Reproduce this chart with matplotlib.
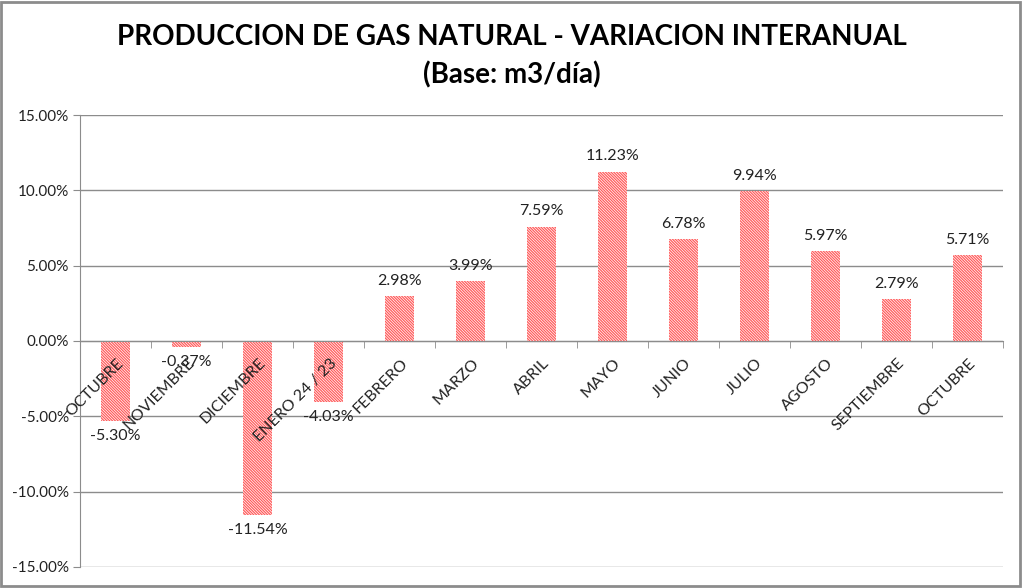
import matplotlib
matplotlib.use("Agg")
import matplotlib.pyplot as plt
from matplotlib.patches import Rectangle
import matplotlib.transforms as mtransforms
import numpy as np

categories = ["OCTUBRE", "NOVIEMBRE", "DICIEMBRE", "ENERO 24 / 23", "FEBRERO", "MARZO",
              "ABRIL", "MAYO", "JUNIO", "JULIO", "AGOSTO", "SEPTIEMBRE", "OCTUBRE"]
values = [-5.30, -0.37, -11.54, -4.03, 2.98, 3.99, 7.59, 11.23, 6.78, 9.94, 5.97, 2.79, 5.71]
yticks = [-15, -10, -5, 0, 5, 10, 15]

plt.rcParams['font.family'] = ['Lato', 'DejaVu Sans']
plt.rcParams['hatch.linewidth'] = 0.9

fig = plt.figure(figsize=(10.23, 5.88), dpi=100)
fig.patch.set_facecolor('white')
fig.add_artist(Rectangle((0.001, 0.004), 0.996, 0.993, transform=fig.transFigure,
                         fill=False, edgecolor='#8c8c8c', linewidth=2.0))

ax = fig.add_axes([80/1023, 21/588, 923/1023, 452/588])
x = np.arange(len(categories))
ax.bar(x, values, width=0.42, facecolor='white', edgecolor='#ff5c5c',
       hatch='\\' * 12, linewidth=0, zorder=2)

ax.set_xlim(-0.5, len(categories) - 0.5)
ax.set_ylim(-15, 15)
ax.set_yticks(yticks)
ax.set_yticklabels([f"{v:.2f}%" for v in yticks], fontsize=11, color='#222222')
ax.yaxis.grid(True, color='#8c8c8c', linewidth=1, zorder=0)
ax.set_axisbelow(True)
ax.tick_params(axis='y', length=5, color='#8c8c8c', pad=3)

for s in ['top', 'right']:
    ax.spines[s].set_visible(False)
ax.spines['left'].set_color('#8c8c8c')
ax.spines['bottom'].set_position(('data', 0))
ax.spines['bottom'].set_color('#8c8c8c')

ax.set_xticks(x)
ax.set_xticklabels([])
ax.tick_params(axis='x', which='major', length=0)
ax.set_xticks(np.arange(-0.5, len(categories), 1), minor=True)
ax.tick_params(axis='x', which='minor', length=5, color='#8c8c8c', direction='out')

off = mtransforms.offset_copy(ax.transData, fig=fig, x=1, y=-15, units='dots')
for xi, c in zip(x, categories):
    ax.text(xi, 0, c, transform=off, rotation=45, ha='right', va='top',
            rotation_mode='anchor', fontsize=11.5, color='#222222', zorder=5, clip_on=False)

for xi, v in zip(x, values):
    if v >= 0:
        ax.annotate(f"{v:.2f}%", (xi, v), xytext=(0, 6), textcoords='offset points',
                    ha='center', va='bottom', fontsize=11.5, color='#222222', zorder=6)
    else:
        ax.annotate(f"{v:.2f}%", (xi, v), xytext=(0, -6), textcoords='offset points',
                    ha='center', va='top', fontsize=11.5, color='#222222', zorder=6)

fig.text(0.5, 1 - 37/588, "PRODUCCION DE GAS NATURAL - VARIACION INTERANUAL",
         ha='center', va='center', fontsize=20, fontweight='bold', color='black')
fig.text(0.5, 1 - 75/588, "(Base: m3/día)",
         ha='center', va='center', fontsize=20, fontweight='bold', color='black')

fig.savefig("out.png", dpi=100)
